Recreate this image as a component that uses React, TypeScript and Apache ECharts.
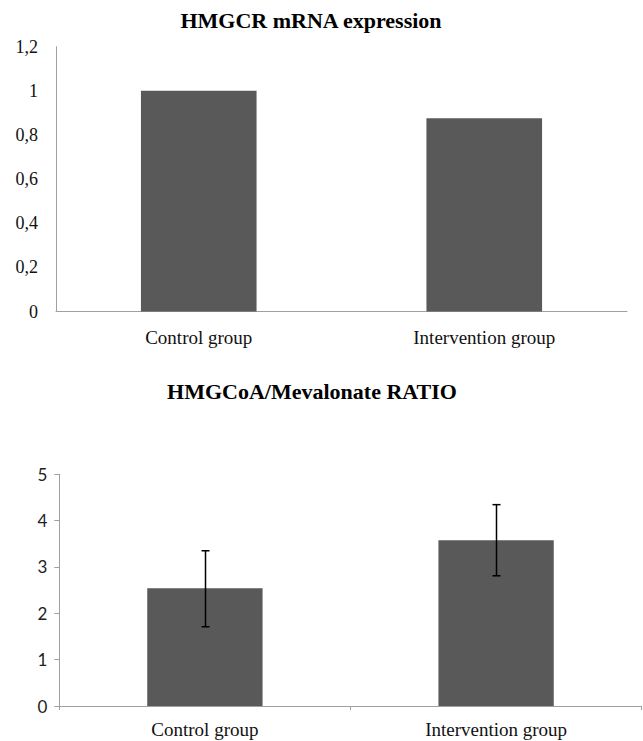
import React, { useEffect, useRef } from "react";
import * as echarts from "echarts";

const categories = ["Control group", "Intervention group"];
const mrnaValues = [1.0, 0.876];
const ratioValues = [2.54, 3.575];
const ratioErrLow = [1.71, 2.81];
const ratioErrHigh = [3.35, 4.345];
const mrnaTitle = "HMGCR mRNA expression";
const ratioTitle = "HMGCoA/Mevalonate RATIO";

const BAR = "#595959";
const AXIS = "#a0a0a0";
const SERIF = "'Liberation Serif', 'Times New Roman', serif";
const SANS = "Lato, 'Noto Sans', sans-serif";

export default function App() {
  const ref = useRef<HTMLDivElement>(null);
  useEffect(() => {
    if (!ref.current) return;
    const chart = echarts.init(ref.current, null, { renderer: "svg" });
    const errData = categories.map((_, i) => [i, ratioErrLow[i], ratioErrHigh[i]]);
    chart.setOption({
      animation: false,
      backgroundColor: "#ffffff",
      graphic: [
        {
          type: "text",
          x: 311,
          y: 20,
          style: {
            text: mrnaTitle,
            textAlign: "center",
            textVerticalAlign: "middle",
            fontFamily: SERIF,
            fontWeight: "bold",
            fontSize: 22,
            fill: "#000",
          },
        },
        {
          type: "text",
          x: 312,
          y: 391,
          style: {
            text: ratioTitle,
            textAlign: "center",
            textVerticalAlign: "middle",
            fontFamily: SERIF,
            fontWeight: "bold",
            fontSize: 22,
            fill: "#000",
          },
        },
      ],
      grid: [
        { left: 56, top: 46.7, width: 571, height: 264.8 },
        { left: 59.3, top: 474.3, width: 582.4, height: 231.7 },
      ],
      xAxis: [
        {
          type: "category",
          gridIndex: 0,
          data: categories,
          axisLine: { lineStyle: { color: AXIS, width: 1 } },
          axisTick: { show: false },
          axisLabel: { fontFamily: SERIF, fontSize: 19, color: "#111", margin: 16 },
        },
        {
          type: "category",
          gridIndex: 1,
          data: categories,
          axisLine: { lineStyle: { color: AXIS, width: 1 } },
          axisTick: { show: true, length: 4, lineStyle: { color: AXIS } },
          axisLabel: { fontFamily: SERIF, fontSize: 19, color: "#111", margin: 14 },
        },
      ],
      yAxis: [
        {
          type: "value",
          gridIndex: 0,
          min: 0,
          max: 1.2,
          interval: 0.2,
          splitLine: { show: false },
          axisLine: { show: true, lineStyle: { color: AXIS, width: 1 } },
          axisTick: { show: false },
          axisLabel: {
            fontFamily: SERIF,
            fontSize: 18,
            color: "#111",
            margin: 18,
            formatter: (v: number) => String(Math.round(v * 10) / 10).replace(".", ","),
          },
        },
        {
          type: "value",
          gridIndex: 1,
          min: 0,
          max: 5,
          interval: 1,
          splitLine: { show: false },
          axisLine: { show: true, lineStyle: { color: AXIS, width: 1 } },
          axisTick: { show: true, length: 5, lineStyle: { color: AXIS } },
          axisLabel: { fontFamily: SANS, fontSize: 17, color: "#222", margin: 12 },
        },
      ],
      series: [
        {
          type: "bar",
          xAxisIndex: 0,
          yAxisIndex: 0,
          data: mrnaValues,
          barWidth: "40.5%",
          itemStyle: { color: BAR },
        },
        {
          type: "bar",
          xAxisIndex: 1,
          yAxisIndex: 1,
          data: ratioValues,
          barWidth: "39.6%",
          itemStyle: { color: BAR },
        },
        {
          type: "custom",
          xAxisIndex: 1,
          yAxisIndex: 1,
          data: errData,
          z: 10,
          renderItem: (params: any, api: any) => {
            const x = api.value(0);
            const lo = api.coord([x, api.value(1)]);
            const hi = api.coord([x, api.value(2)]);
            const cx = Math.round(lo[0]) + 0.5;
            const hw = 4;
            const style = { stroke: "#000", lineWidth: 1.5, fill: "none" };
            return {
              type: "group",
              children: [
                { type: "line", shape: { x1: cx, y1: hi[1], x2: cx, y2: lo[1] }, style },
                { type: "line", shape: { x1: cx - hw, y1: hi[1], x2: cx + hw, y2: hi[1] }, style },
                { type: "line", shape: { x1: cx - hw, y1: lo[1], x2: cx + hw, y2: lo[1] }, style },
              ],
            };
          },
        },
      ],
    });
    return () => chart.dispose();
  }, []);
  return (
    <div
      ref={ref}
      style={{ position: "absolute", left: 0, top: 0, width: 643, height: 741 }}
    />
  );
}
